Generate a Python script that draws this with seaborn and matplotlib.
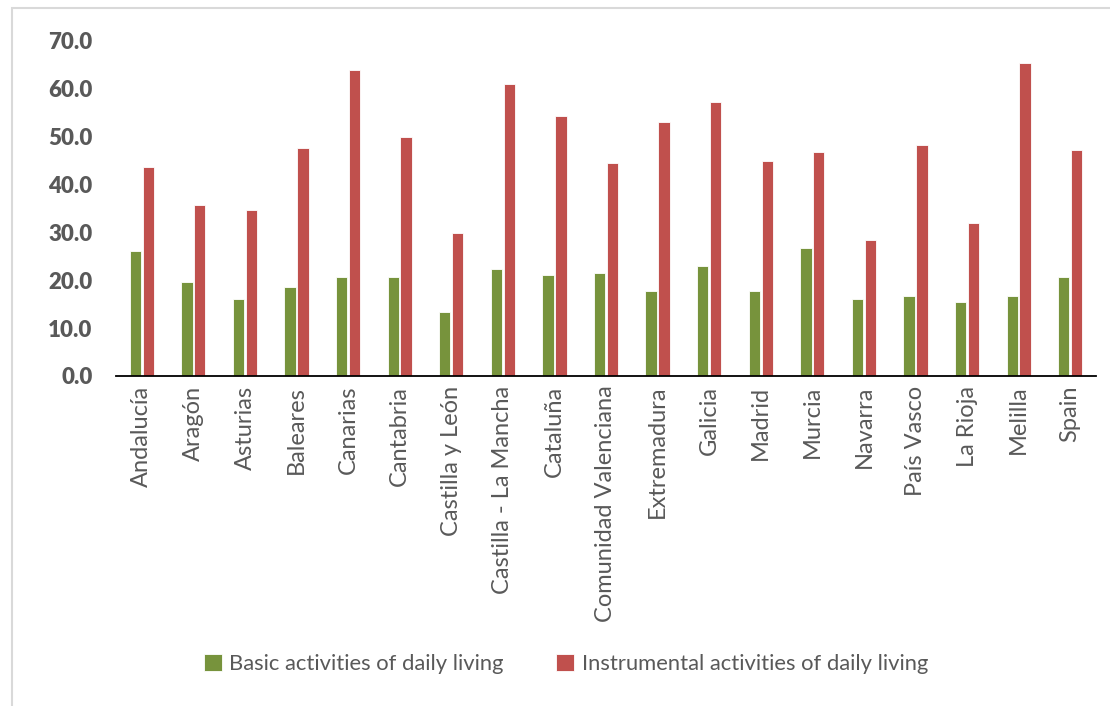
import matplotlib
matplotlib.use("Agg")
import matplotlib.pyplot as plt
from matplotlib.patches import Rectangle
import seaborn as sns
import pandas as pd

regions = ["Andalucía", "Aragón", "Asturias", "Baleares", "Canarias", "Cantabria",
           "Castilla y León", "Castilla - La Mancha", "Cataluña", "Comunidad Valenciana",
           "Extremadura", "Galicia", "Madrid", "Murcia", "Navarra", "País Vasco",
           "La Rioja", "Melilla", "Spain"]
basic = [26.1, 19.6, 16.1, 18.6, 20.6, 20.7, 13.3, 22.4, 21.0, 21.6,
         17.7, 22.9, 17.8, 26.7, 16.0, 16.7, 15.5, 16.8, 20.7]
instrumental = [43.7, 35.6, 34.7, 47.6, 63.9, 49.8, 29.9, 61.0, 54.2, 44.5,
                53.0, 57.1, 44.9, 46.8, 28.3, 48.2, 31.9, 65.3, 47.2]
series_names = ["Basic activities of daily living", "Instrumental activities of daily living"]
y_ticks = [0, 10, 20, 30, 40, 50, 60, 70]

df = pd.DataFrame({
    "region": regions * 2,
    "value": basic + instrumental,
    "activity": [series_names[0]] * len(regions) + [series_names[1]] * len(regions),
})

sns.set_style("white")
plt.rcParams["font.family"] = ["Lato", "DejaVu Sans"]

text_color = "#595959"
fig = plt.figure(figsize=(11.10, 7.06), dpi=100)
ax = fig.add_axes([116 / 1110, 1 - 376 / 706, 980 / 1110, (376 - 40.7) / 706])

sns.barplot(data=df, x="region", y="value", hue="activity", order=regions,
            hue_order=series_names, palette=["#77933C", "#C0504D"], saturation=1,
            width=0.5, gap=0.12, edgecolor="white", linewidth=0.6, ax=ax)

ax.set_ylim(0, 70)
ax.set_xlim(-0.5, len(regions) - 0.5)
ax.set_yticks(y_ticks)
ax.set_yticklabels([f"{v:.1f}" for v in y_ticks], fontsize=16,
                   fontweight="heavy", color=text_color)
ax.set_xticks(range(len(regions)))
ax.set_xticklabels(regions, rotation=90, fontsize=17, color=text_color)
ax.tick_params(axis="y", length=0, pad=17)
ax.tick_params(axis="x", length=0, pad=7)
ax.set_xlabel("")
ax.set_ylabel("")
for side in ["left", "right", "top"]:
    ax.spines[side].set_visible(False)
ax.spines["bottom"].set_color("black")
ax.spines["bottom"].set_linewidth(1.3)

handles, labels = ax.get_legend_handles_labels()
ax.legend_.remove()
fig.legend(handles, labels, loc="center", bbox_to_anchor=(566 / 1110, 1 - 664 / 706),
           ncol=2, frameon=False, fontsize=15.8, handlelength=0.8, handleheight=0.8,
           handletextpad=0.35, columnspacing=2.4, labelcolor=text_color)

fig.patches.append(Rectangle((12 / 1110, -0.1), 2, 1.1 - 8 / 706,
                             transform=fig.transFigure, fill=False,
                             edgecolor="#D9D9D9", linewidth=1.5))

fig.savefig("out.png", dpi=100)
